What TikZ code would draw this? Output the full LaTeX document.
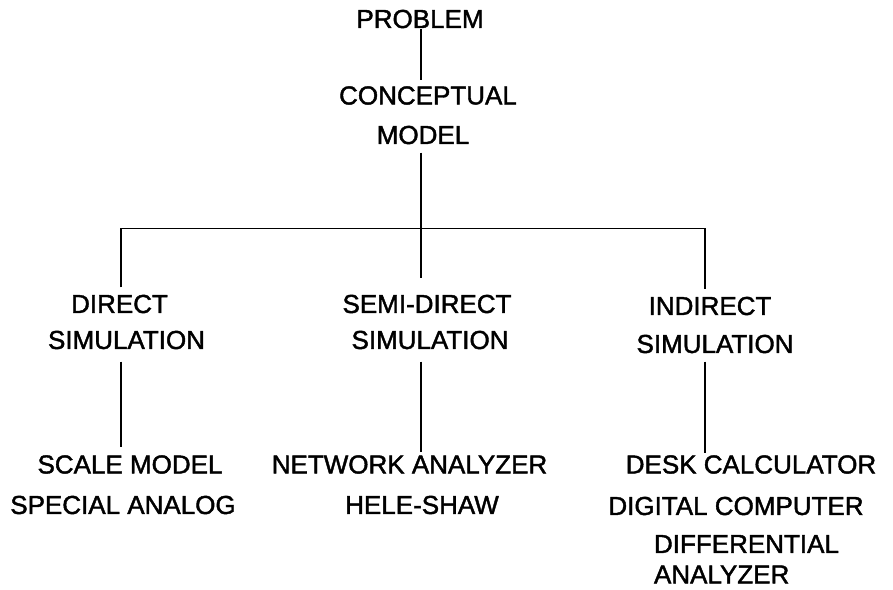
\documentclass[tikz,border=0pt]{standalone}
\usepackage{fontspec}
\setmainfont{Liberation Sans}
\newfontfamily\lettering{Liberation Sans}[FakeBold=1.6]
\begin{document}
\begin{tikzpicture}[x=1pt,y=-1pt,
  label/.style={inner sep=0pt,outer sep=0pt,anchor=center,
    font=\lettering\fontsize{26}{30}\selectfont},
  link/.style={draw=black,line width=1.7pt}]
\fill[white] (0,0) rectangle (893,589);
\useasboundingbox (0,0) rectangle (893,589);

% junction points of the branching bar
\coordinate (barL) at (121,228.5);
\coordinate (hub)  at (421,228.5);
\coordinate (barR) at (705,228.5);

% top of the tree
\node[label] (problem) at (420,19)   {PROBLEM};
\node[label] (concept) at (428,95.5) {CONCEPTUAL};
\node[label] (model)   at (423,135)  {MODEL};

% three kinds of simulation
\node[label] (direct1)   at (119.5,304) {DIRECT};
\node[label] (direct2)   at (126.5,340) {SIMULATION};
\node[label] (semi1)     at (427,304)   {SEMI-DIRECT};
\node[label] (semi2)     at (430,340)   {SIMULATION};
\node[label] (indirect1) at (710,306)   {INDIRECT};
\node[label] (indirect2) at (715,344)   {SIMULATION};

% tools for each kind
\node[label] (scale)   at (130,464.5) {SCALE MODEL};
\node[label] (special) at (123,505)   {SPECIAL ANALOG};
\node[label] (network) at (409.5,464.5) {NETWORK ANALYZER};
\node[label] (hele)    at (422,505)   {HELE-SHAW};
\node[label] (desk)    at (751,464.5) {DESK CALCULATOR};
\node[label] (digital) at (736,506)   {DIGITAL COMPUTER};
\node[label,anchor=west] (diff1) at (654,544) {DIFFERENTIAL};
\node[label,anchor=west] (diff2) at (654,574.5) {ANALYZER};

% connectors
\draw[link] ([yshift=-1pt]problem.south -| hub) -- ([yshift=6pt]concept.north -| hub);
\draw[link] ([yshift=-8.5pt]model.south -| hub) -- ([yshift=16.5pt]semi1.north -| hub);
\draw[link] ([yshift=7.5pt]direct1.north -| barL) |- (hub)
            -| ([yshift=7.5pt]indirect1.north -| barR);
\draw[link] ([yshift=-12.5pt]direct2.south -| barL) -- ([yshift=8pt]scale.north -| barL);
\draw[link] ([yshift=-12.5pt]semi2.south -| hub) -- ([yshift=3pt]network.north -| hub);
\draw[link] ([yshift=-8.5pt]indirect2.south -| barR) -- ([yshift=2pt]desk.north -| barR);
\end{tikzpicture}
\end{document}
